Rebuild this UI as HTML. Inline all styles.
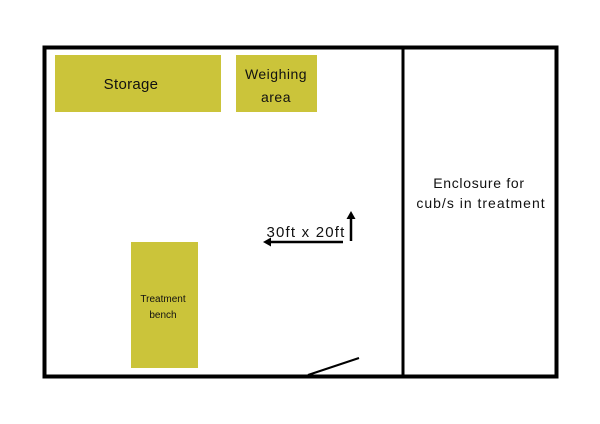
<!DOCTYPE html>
<html><head><style>
body{margin:0;background:#fff;}
svg{display:block;font-family:"Liberation Sans",sans-serif;}
</style></head><body>
<svg width="600" height="424" viewBox="0 0 600 424">
<rect x="44.5" y="47.5" width="512" height="329" fill="none" stroke="#000" stroke-width="4"/>
<line x1="403" y1="47" x2="403" y2="377" stroke="#000" stroke-width="3"/>
<rect x="55" y="55" width="166" height="57" fill="#cbc43a"/>
<rect x="236" y="55" width="81" height="57" fill="#cbc43a"/>
<rect x="131" y="242" width="67" height="126" fill="#cbc43a"/>
<text x="131" y="89" font-size="15" text-anchor="middle" fill="#111" letter-spacing="0.3">Storage</text>
<text x="276" y="79" font-size="14" text-anchor="middle" fill="#111" letter-spacing="0.5">Weighing</text>
<text x="276" y="102" font-size="14" text-anchor="middle" fill="#111" letter-spacing="0.5">area</text>
<text x="163" y="302" font-size="10" text-anchor="middle" fill="#111">Treatment</text>
<text x="163" y="318" font-size="10" text-anchor="middle" fill="#111">bench</text>
<text x="479" y="188" font-size="14" text-anchor="middle" fill="#111" letter-spacing="0.7">Enclosure for</text>
<text x="481" y="208" font-size="14" text-anchor="middle" fill="#111" letter-spacing="1">cub/s in treatment</text>
<text x="306" y="237" font-size="15" text-anchor="middle" fill="#111" letter-spacing="1.2">30ft x 20ft</text>
<line x1="343" y1="242" x2="270" y2="242" stroke="#000" stroke-width="2.5"/>
<polygon points="263,242 271,237.5 271,246.5" fill="#000"/>
<line x1="351" y1="241" x2="351" y2="218" stroke="#000" stroke-width="2.5"/>
<polygon points="351,211 346.5,219 355.5,219" fill="#000"/>
<line x1="308" y1="375" x2="359" y2="358" stroke="#000" stroke-width="2"/>
</svg>
</body></html>
